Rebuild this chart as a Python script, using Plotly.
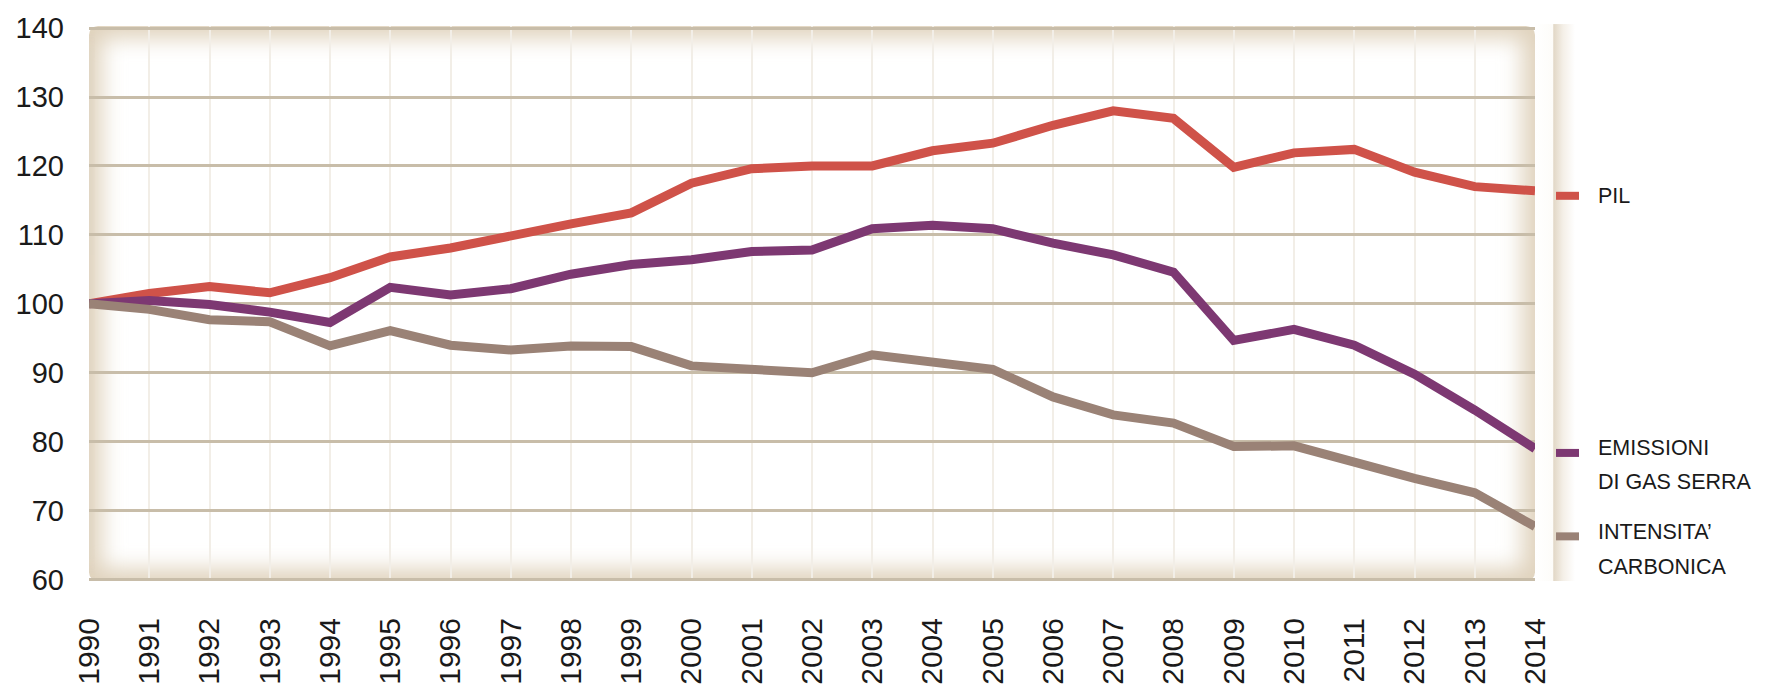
import base64
import plotly.graph_objects as go

# Index 1990 = 100
years = list(range(1990, 2015))
year_labels = [str(y) for y in years]

pil = [100, 101.5, 102.5, 101.6, 103.8, 106.8, 108.1, 110.0, 111.6, 113.2,
       117.5, 119.6, 120.0, 120.0, 122.2, 123.3, 125.9, 128.0, 126.9, 119.8,
       121.9, 122.4, 119.1, 117.0, 116.4]
emissioni = [100, 100.5, 99.9, 98.8, 97.3, 102.4, 101.3, 102.2, 104.3, 105.7,
             106.4, 107.6, 107.8, 110.9, 111.4, 110.9, 108.8, 107.1, 104.6, 94.7,
             96.3, 94.0, 89.8, 84.6, 79.0]
intensita = [100, 99.2, 97.7, 97.4, 93.9, 96.1, 94.0, 93.3, 93.9, 93.8,
             91.0, 90.4, 90.0, 92.6, 91.6, 90.5, 86.5, 83.9, 82.7, 79.3,
             79.4, 76.9, 74.7, 72.6, 67.7]

y_ticks = [60, 70, 80, 90, 100, 110, 120, 130, 140]

series = [
    ("PIL", pil, "#cf5249"),
    ("EMISSIONI DI GAS SERRA", emissioni, "#7d3872"),
    ("INTENSITA' CARBONICA", intensita, "#9a8276"),
]

W, H = 1787, 697
ML, MR, MT, MB = 89, 252, 17, 108
PW, PH = W - ML - MR, H - MT - MB
Y0, Y1 = 59.8, 140.3


def svg_uri(svg):
    return "data:image/svg+xml;base64," + base64.b64encode(svg.encode()).decode()


# Cream vignette panel behind the plot area
panel_svg = f'''<svg xmlns="http://www.w3.org/2000/svg" width="{PW}" height="{PH}" viewBox="0 0 {PW} {PH}" preserveAspectRatio="none">
<defs>
<filter id="b" x="-20%" y="-20%" width="140%" height="140%"><feGaussianBlur stdDeviation="11"/></filter>
<clipPath id="c"><rect width="{PW}" height="{PH}" rx="9" ry="9"/></clipPath>
</defs>
<rect width="{PW}" height="{PH}" rx="9" ry="9" fill="#ffffff"/>
<g clip-path="url(#c)">
<rect x="-6" y="-6" width="{PW + 12}" height="{PH + 12}" fill="none" stroke="#e0d3bd" stroke-width="38" filter="url(#b)"/>
<rect x="0" y="0" width="5" height="{PH}" fill="#d9ccb5" opacity="0.6" filter="url(#b)"/>
</g>
</svg>'''

# Narrow side strip with its soft shadow, right of the panel
strip_svg = '''<svg xmlns="http://www.w3.org/2000/svg" width="40" height="574" viewBox="0 0 40 574" preserveAspectRatio="none">
<defs><linearGradient id="g" x1="0" x2="1" y1="0" y2="0">
<stop offset="0" stop-color="#ffffff"/>
<stop offset="0.44" stop-color="#fdfcf9"/>
<stop offset="0.47" stop-color="#e2d8c7"/>
<stop offset="0.7" stop-color="#f4efe7"/>
<stop offset="1" stop-color="#ffffff"/>
</linearGradient></defs>
<rect width="40" height="574" fill="url(#g)"/>
</svg>'''

fig = go.Figure()
for name, vals, color in series:
    fig.add_trace(go.Scatter(
        x=years, y=vals, mode="lines", name=name,
        line=dict(color=color, width=9),
        hoverinfo="skip",
    ))


def px_x(px):
    return (px - ML) / PW


def px_y(py):
    return (H - MB - py) / PH


images = [
    dict(source=svg_uri(panel_svg), xref="paper", yref="paper", x=0, y=1,
         sizex=1, sizey=1, sizing="stretch", layer="below", xanchor="left", yanchor="top"),
    dict(source=svg_uri(strip_svg), xref="paper", yref="paper", x=px_x(1535), y=px_y(15),
         sizex=40 / PW, sizey=574 / PH, sizing="stretch", layer="below",
         xanchor="left", yanchor="top"),
]

shapes = []
annotations = []
legend_font = dict(family="Liberation Sans, Arial, sans-serif", size=21.5, color="#1a1a1a")
# legend marks: (y pixel of mark, color, text lines with their y pixel)
legend_items = [
    (192, series[0][2], [("PIL", 192)]),
    (457, series[1][2], [("EMISSIONI", 452), ("DI GAS SERRA", 487)]),
    (543, series[2][2], [("INTENSITA’", 538), ("CARBONICA", 575)]),
]
for my, color, lines in legend_items:
    shapes.append(dict(type="line", xref="paper", yref="paper",
                       x0=px_x(1556), x1=px_x(1579), y0=px_y(my), y1=px_y(my),
                       line=dict(color=color, width=8)))
    for txt, ty in lines:
        annotations.append(dict(text=txt, xref="paper", yref="paper",
                                x=px_x(1596), y=px_y(ty), xanchor="left", yanchor="middle",
                                showarrow=False, font=legend_font))

fig.update_layout(
    width=W, height=H,
    margin=dict(l=ML, r=MR, t=MT, b=MB),
    paper_bgcolor="#ffffff",
    plot_bgcolor="rgba(0,0,0,0)",
    showlegend=False,
    images=images,
    shapes=shapes,
    annotations=annotations,
    xaxis=dict(
        range=[1990, 2014], tickvals=years, ticktext=year_labels, tickangle=-90,
        showgrid=True, gridcolor="#f2eee7", gridwidth=1.5,
        zeroline=False, showline=False, ticks="",
        ticklabelstandoff=30,
        tickfont=dict(family="Liberation Sans, Arial, sans-serif", size=30, color="#1a1a1a"),
    ),
    yaxis=dict(
        range=[Y0, Y1], tickvals=y_ticks,
        showgrid=True, gridcolor="#c8bda9", gridwidth=3,
        zeroline=False, showline=False, ticks="",
        ticklabelstandoff=24,
        tickfont=dict(family="Liberation Sans, Arial, sans-serif", size=29, color="#1a1a1a"),
    ),
)

fig.write_html("out.html")
